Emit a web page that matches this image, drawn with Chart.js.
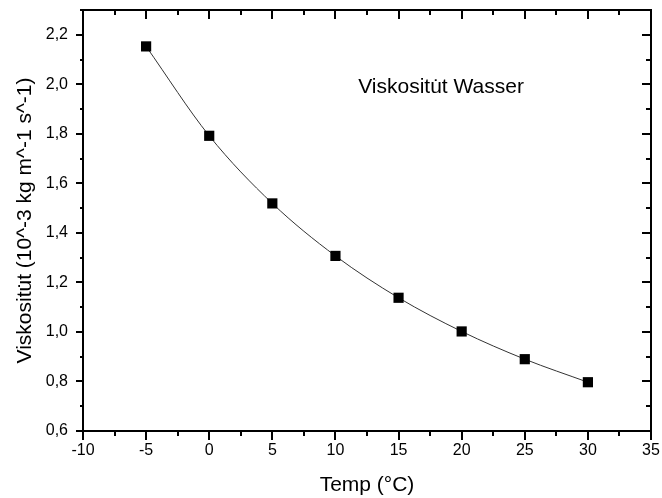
<!DOCTYPE html>
<html>
<head>
<meta charset="utf-8">
<script src="https://cdn.jsdelivr.net/npm/chart.js@4"></script>
<style>
  body { margin: 0; background: #fff; }
  #wrap { width: 662px; height: 498px; }
</style>
</head>
<body>
<div id="wrap"><canvas id="viscChart" width="662" height="498"></canvas></div>
<script>
// water viscosity vs temperature
var temps = [-5, 0, 5, 10, 15, 20, 25, 30];
var visc = [2.153, 1.792, 1.519, 1.307, 1.138, 1.002, 0.890, 0.797];
var xTicks = [-10, -5, 0, 5, 10, 15, 20, 25, 30, 35];
var yTicks = [0.6, 0.8, 1.0, 1.2, 1.4, 1.6, 1.8, 2.0, 2.2];
var xTitle = "Temp (°C)";
var yTitle = "Viskosit\u0075\u0307t (10^-3 kg m^-1 s^-1)";
var noteText = "Viskosit\u0075\u0307t Wasser";
var notePos = { x: 11.8, y: 1.99 };

var fontFamily = "'Liberation Sans', Arial, sans-serif";

function fixSize(prop, val) {
    return function (scale) {
        scale[prop] = val;
        scale.paddingLeft = scale.paddingRight = scale.paddingTop = scale.paddingBottom = 0;
    };
}

// Origin style ticks: out on bottom/left, in on top/right
var tickPlugin = {
    id: "originTicks",
    afterDraw: function (chart) {
        var ctx = chart.ctx;
        var a = chart.chartArea;
        var xs = chart.scales.x, ys = chart.scales.y;
        var major = 9, minor = 5;
        ctx.save();
        ctx.strokeStyle = "#000";
        ctx.lineWidth = 2;
        ctx.beginPath();
        var xStep = (xTicks[1] - xTicks[0]) / 2;
        for (var v = xs.min; v <= xs.max + 1e-9; v += xStep) {
            var px = Math.round(xs.getPixelForValue(v));
            var len = Math.abs((v - xs.min) / (xStep * 2) % 1) < 1e-6 ? major : minor;
            ctx.moveTo(px, a.bottom); ctx.lineTo(px, a.bottom + len);
            ctx.moveTo(px, a.top); ctx.lineTo(px, a.top + len);
        }
        var yStep = (yTicks[1] - yTicks[0]) / 2;
        for (var w = ys.min; w <= ys.max + 1e-9; w += yStep) {
            var py = Math.round(ys.getPixelForValue(w));
            var k = (w - ys.min) / (yStep * 2);
            var l2 = Math.abs(k - Math.round(k)) < 1e-6 ? major : minor;
            ctx.moveTo(a.left, py); ctx.lineTo(a.left - l2 + 2, py);
            ctx.moveTo(a.right, py); ctx.lineTo(a.right - l2, py);
        }
        ctx.stroke();

        // text note inside the plot
        ctx.fillStyle = "#000";
        ctx.font = "21px " + fontFamily;
        ctx.textAlign = "left";
        ctx.textBaseline = "middle";
        ctx.fillText(noteText, xs.getPixelForValue(notePos.x), ys.getPixelForValue(notePos.y));
        ctx.restore();
    }
};

var axisBorder = { display: true, color: "#000", width: 2 };
var noGrid = { display: true, drawOnChartArea: false, drawTicks: false };

new Chart(document.getElementById("viscChart").getContext("2d"), {
    type: "line",
    data: {
        datasets: [{
            data: temps.map(function (t, i) { return { x: t, y: visc[i] }; }),
            borderColor: "#333",
            borderWidth: 1,
            backgroundColor: "#000",
            pointStyle: "rect",
            pointRadius: 7.2,
            pointBorderWidth: 0,
            cubicInterpolationMode: "monotone",
            fill: false
        }]
    },
    options: {
        responsive: false,
        animation: false,
        layout: { padding: 0 },
        plugins: { legend: { display: false }, tooltip: { enabled: false } },
        scales: {
            x: {
                type: "linear", position: "bottom",
                min: xTicks[0], max: xTicks[xTicks.length - 1],
                afterBuildTicks: function (s) { s.ticks = xTicks.map(function (v) { return { value: v }; }); },
                afterFit: fixSize("height", 67),
                grid: noGrid, border: axisBorder,
                ticks: { color: "#000", padding: 10, maxRotation: 0, font: { family: fontFamily, size: 16 } },
                title: { display: true, text: xTitle, color: "#000", padding: { top: 0, bottom: 0 }, font: { family: fontFamily, size: 21 } }
            },
            x2: {
                type: "linear", position: "top",
                min: xTicks[0], max: xTicks[xTicks.length - 1],
                afterFit: fixSize("height", 10),
                grid: noGrid, border: axisBorder,
                ticks: { display: false }
            },
            y: {
                type: "linear", position: "left",
                min: 0.6, max: 2.3,
                afterBuildTicks: function (s) { s.ticks = yTicks.map(function (v) { return { value: v }; }); },
                afterFit: fixSize("width", 83),
                grid: noGrid, border: axisBorder,
                ticks: {
                    color: "#000", padding: 15, font: { family: fontFamily, size: 16 },
                    callback: function (v) { return v.toFixed(1).replace(".", ","); }
                },
                title: { display: true, text: yTitle, color: "#000", padding: { top: 13, bottom: 0 }, font: { family: fontFamily, size: 21 } }
            },
            y2: {
                type: "linear", position: "right",
                min: 0.6, max: 2.3,
                afterFit: fixSize("width", 11),
                grid: noGrid, border: axisBorder,
                ticks: { display: false }
            }
        }
    },
    plugins: [tickPlugin]
});
</script>
</body>
</html>
